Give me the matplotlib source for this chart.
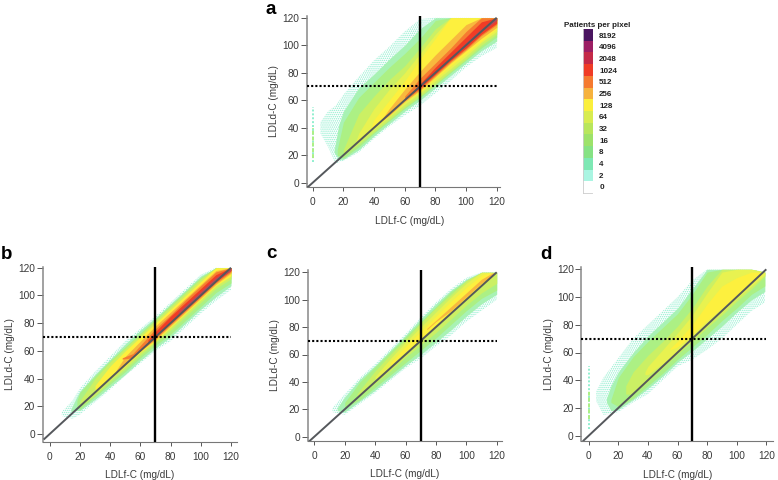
import matplotlib
matplotlib.use("Agg")
import matplotlib.pyplot as plt
from matplotlib.colors import ListedColormap
import numpy as np

plt.rcParams["font.family"] = ["Liberation Sans", "DejaVu Sans"]
plt.rcParams["hatch.linewidth"] = 0.7

W, H = 778, 480

# colour legend
legend_labels = ["0", "2", "4", "8", "16", "32", "64", "128", "256", "512", "1024", "2048", "4096", "8192"]
legend_colors = ["#ffffff", "#aaf5e2", "#7ee8b4", "#86e284", "#9de26a", "#b8e65c", "#d8ec50", "#fbef3c",
                 "#f6b23e", "#f57a30", "#f03c26", "#c42a48", "#9c1e64", "#4a1560"]

# colours of the density bands as they look once blurred
col_speck = "#90efcf"
col_mint = "#a8f2b4"
col_green = "#acf084"
col_lime = "#cbf064"
col_ylime = "#e8f250"
col_yellow = "#fdf03e"
col_orange = "#f8b83e"
col_dorange = "#f67c30"
col_red = "#f03c26"
col_maroon = "#b84a5a"

ticks = [0, 20, 40, 60, 80, 100, 120]
cutoff = 70

# band outlines: x positions, then lower and upper LDLd-C
# panel a
a_speck_x = [5, 10, 15, 20, 30, 40, 50, 60, 70, 80, 90, 100, 110, 120]
a_speck_lo = [36, 26, 14, 16, 22, 32, 41, 49, 56, 65, 74, 84, 92, 98]
a_speck_hi = [44, 52, 56, 64, 77, 89, 99, 110, 119, 120, 120, 120, 120, 120]
a_mint_x = [14, 17, 20, 30, 40, 50, 60, 70, 80, 90, 100, 110, 120]
a_mint_lo = [22, 17, 17, 24, 34, 43, 52, 60, 69, 78, 87, 96, 103]
a_mint_hi = [24, 42, 52, 69, 79, 90, 100, 112, 120, 120, 120, 120, 120]
a_green_x = [16, 20, 30, 40, 50, 60, 70, 80, 90, 100, 110, 120]
a_green_lo = [20, 18, 26, 36, 45, 54, 62, 71, 80, 89, 98, 106]
a_green_hi = [24, 44, 62, 73, 84, 94, 105, 118, 120, 120, 120, 120]
a_lime_x = [20, 30, 40, 50, 60, 70, 80, 90, 100, 110, 120]
a_lime_lo = [20, 28, 37, 46, 55, 63, 72, 81, 90, 100, 108]
a_lime_hi = [24, 50, 63, 75, 85, 98, 112, 120, 120, 120, 120]
a_ylime_x = [28, 30, 40, 50, 60, 70, 80, 90, 100, 110, 120]
a_ylime_lo = [29, 30, 39, 48, 57, 65, 74, 83, 92, 102, 110]
a_ylime_hi = [30, 36, 54, 68, 80, 94, 108, 120, 120, 120, 120]
a_yellow_x = [38, 40, 50, 60, 70, 80, 90, 100, 110, 120]
a_yellow_lo = [38, 40, 49, 59, 66, 76, 85, 94, 103, 112]
a_yellow_hi = [40, 46, 60, 74, 90, 105, 120, 120, 120, 120]
a_orange_x = [45, 50, 60, 70, 80, 90, 100, 110, 120]
a_orange_lo = [45, 49, 59, 67, 77, 87, 96, 105, 113]
a_orange_hi = [46, 54, 68, 81, 93, 104, 115, 120, 120]
a_dorange_x = [60, 70, 80, 90, 100, 110, 120]
a_dorange_lo = [60, 68, 78, 88, 97, 107, 115]
a_dorange_hi = [63, 76, 87, 98, 110, 120, 120]
a_red_x = [65, 70, 80, 90, 100, 110, 120]
a_red_lo = [65, 69, 79, 89, 98, 108, 116]
a_red_hi = [66, 72, 84, 95, 106, 117, 120]
a_maroon_x = [95, 100, 110, 120]
a_maroon_lo = [95, 100, 110, 118]
a_maroon_hi = [96, 102, 112, 120]
a_zero_lo, a_zero_hi = 15, 55
a_zero_dense_lo, a_zero_dense_hi = 18, 40

# panel b
b_speck_x = [8, 15, 20, 30, 40, 50, 60, 70, 80, 90, 100, 110, 120]
b_speck_lo = [13, 11, 14, 23, 32, 42, 51, 60, 67, 77, 87, 96, 104]
b_speck_hi = [16, 24, 33, 45, 56, 67, 76, 85, 95, 105, 115, 120, 120]
b_mint_x = [14, 18, 20, 30, 40, 50, 60, 70, 80, 90, 100, 110, 120]
b_mint_lo = [16, 17, 17, 25, 34, 43, 53, 62, 70, 80, 90, 99, 107]
b_mint_hi = [18, 27, 31, 43, 54, 65, 75, 84, 94, 104, 114, 120, 120]
b_green_x = [18, 20, 30, 40, 50, 60, 70, 80, 90, 100, 110, 120]
b_green_lo = [19, 18, 27, 36, 45, 55, 64, 72, 82, 92, 102, 109]
b_green_hi = [24, 30, 42, 53, 63, 73, 83, 93, 103, 113, 120, 120]
b_lime_x = [20, 30, 40, 50, 60, 70, 80, 90, 100, 110, 120]
b_lime_lo = [20, 28, 38, 47, 57, 66, 75, 85, 95, 105, 112]
b_lime_hi = [24, 40, 52, 62, 72, 82, 92, 102, 112, 120, 120]
b_yellow_x = [30, 40, 50, 60, 70, 80, 90, 100, 110, 120]
b_yellow_lo = [30, 40, 49, 59, 67, 77, 87, 97, 107, 114]
b_yellow_hi = [35, 49, 60, 70, 80, 90, 100, 110, 120, 120]
b_orange_x = [44, 50, 60, 70, 80, 90, 100, 110, 120]
b_orange_lo = [44, 50, 60, 68, 78, 88, 98, 108, 116]
b_orange_hi = [46, 56, 67, 78, 88, 98, 108, 118, 120]
b_dorange_x = [48, 55, 60, 70, 80, 90, 100, 110, 120]
b_dorange_lo = [54, 55, 60, 69, 79, 89, 99, 109, 117]
b_dorange_hi = [55, 58, 64, 76, 86, 97, 107, 117, 120]
b_red_x = [65, 70, 80, 90, 100, 110, 120]
b_red_lo = [66, 70, 80, 90, 100, 110, 118]
b_red_hi = [68, 74, 85, 95, 105, 115, 120]
b_maroon_x = [85, 90, 100, 110, 120]
b_maroon_lo = [87, 91, 101, 111, 118]
b_maroon_hi = [88, 93, 103, 113, 120]

# panel c
c_speck_x = [12, 20, 30, 40, 50, 60, 70, 80, 90, 100, 110, 120]
c_speck_lo = [18, 16, 24, 32, 41, 50, 57, 66, 74, 84, 92, 100]
c_speck_hi = [21, 31, 43, 53, 64, 75, 87, 98, 108, 116, 120, 120]
c_mint_x = [15, 20, 30, 40, 50, 60, 70, 80, 90, 100, 110, 120]
c_mint_lo = [19, 18, 26, 34, 43, 52, 60, 69, 78, 88, 97, 104]
c_mint_hi = [21, 29, 42, 52, 63, 74, 86, 97, 107, 115, 120, 120]
c_green_x = [20, 30, 40, 50, 60, 70, 80, 90, 100, 110, 120]
c_green_lo = [21, 27, 36, 45, 54, 63, 72, 82, 92, 101, 107]
c_green_hi = [25, 40, 51, 62, 73, 84, 95, 106, 114, 120, 120]
c_lime_x = [28, 30, 40, 50, 60, 70, 80, 90, 100, 110, 120]
c_lime_lo = [29, 30, 39, 48, 58, 67, 76, 86, 96, 105, 112]
c_lime_hi = [31, 34, 48, 60, 71, 83, 94, 104, 114, 120, 120]
c_ylime_x = [40, 50, 60, 70, 80, 90, 100, 110, 117]
c_ylime_lo = [42, 50, 60, 70, 80, 90, 100, 110, 116]
c_ylime_hi = [44, 57, 69, 80, 91, 102, 112, 120, 120]
c_yellow_x = [50, 60, 70, 80, 90, 100, 110, 116]
c_yellow_lo = [52, 62, 71, 81, 91, 101, 111, 117]
c_yellow_hi = [54, 66, 77, 88, 99, 109, 118, 120]
c_orange_x = [74, 80, 85, 90, 100, 110, 118]
c_orange_lo = [78, 84, 88, 92, 102, 112, 118]
c_orange_hi = [79, 85, 90, 95, 105, 115, 120]

# panel d
d_speck_x = [5, 10, 20, 30, 40, 50, 60, 70, 80, 90, 100, 110, 119]
d_speck_lo = [25, 15, 17, 24, 30, 40, 50, 55, 62, 70, 80, 90, 96]
d_speck_hi = [32, 42, 56, 70, 80, 90, 100, 112, 120, 120, 120, 120, 118]
d_mint_x = [12, 15, 20, 30, 40, 50, 60, 70, 80, 90, 100, 110, 119]
d_mint_lo = [24, 18, 19, 26, 34, 43, 53, 61, 70, 79, 89, 98, 104]
d_mint_hi = [27, 36, 46, 60, 72, 82, 92, 106, 120, 120, 120, 120, 118]
d_green_x = [15, 20, 30, 40, 50, 60, 70, 80, 90, 100, 110, 119]
d_green_lo = [24, 21, 27, 36, 45, 55, 64, 73, 83, 92, 102, 108]
d_green_hi = [26, 42, 57, 68, 78, 88, 102, 118, 120, 120, 120, 118]
d_lime_x = [25, 30, 40, 50, 60, 70, 80, 90, 100, 110, 119]
d_lime_lo = [30, 30, 39, 49, 59, 68, 78, 87, 97, 106, 115]
d_lime_hi = [36, 46, 58, 68, 79, 92, 108, 120, 120, 120, 118]
d_ylime_x = [38, 40, 50, 60, 70, 80, 90, 100, 110, 119]
d_ylime_lo = [44, 44, 52, 61, 70, 80, 89, 99, 108, 116]
d_ylime_hi = [46, 50, 62, 74, 87, 103, 118, 120, 120, 118]
d_yellow_x = [55, 60, 70, 80, 90, 100, 110, 117]
d_yellow_lo = [62, 64, 73, 83, 92, 101, 110, 116]
d_yellow_hi = [63, 68, 80, 95, 108, 114, 118, 118]
d_zero_lo, d_zero_hi = 5, 50
d_zero_dense_lo, d_zero_dense_hi = 12, 32

diag_x = [-4, 120]


def make_axes(left, right, bottom, top):
    # positions are given in pixels of the 778x480 picture
    return plt.axes([left / W, 1 - bottom / H, (right - left) / W, (bottom - top) / H])


def band(ax, x, lo, hi, color):
    ax.fill_between(x, lo, hi, color=color, linewidth=0)


def speckle(ax, x, lo, hi):
    ax.fill_between(x, lo, hi, facecolor="none", edgecolor=col_speck, hatch="........", linewidth=0)


def finish(ax, x0, x120, y0, y120, left, right, bottom, top, letter, lx, ly, xlabel_at=0.5):
    sx = (x120 - x0) / 120
    sy = (y0 - y120) / 120
    ax.set_xlim((left - x0) / sx, (right - x0) / sx)
    ax.set_ylim((y0 - bottom) / sy, (y0 - top) / sy)
    ax.plot(diag_x, diag_x, color="#55585c", lw=1.4, solid_capstyle="butt", zorder=5)
    ax.axvline(cutoff, color="black", lw=1.7, zorder=6)
    ax.plot([ax.get_xlim()[0], 120], [cutoff, cutoff], color="black", lw=1.5, ls=(0, (1, 1)), zorder=6)
    ax.set_xticks(ticks)
    ax.set_yticks(ticks)
    ax.tick_params(axis="x", length=3, width=0.7, color="#555555", labelsize=7.3, labelcolor="#3a3a3a", pad=4.5)
    ax.tick_params(axis="y", length=4.5, width=0.7, color="#555555", labelsize=7.3, labelcolor="#3a3a3a", pad=1)
    ax.set_xlabel("LDLf-C (mg/dL)", fontsize=7.2, color="#3a3a3a", labelpad=6, x=xlabel_at)
    ax.set_ylabel("LDLd-C (mg/dL)", fontsize=7.2, color="#3a3a3a", labelpad=2)
    ax.spines["top"].set_visible(False)
    ax.spines["right"].set_visible(False)
    ax.spines["left"].set_color("#888888")
    ax.spines["bottom"].set_color("#777777")
    ax.spines["left"].set_linewidth(1.1)
    ax.spines["bottom"].set_linewidth(0.8)
    fig.text(lx / W, 1 - ly / H, letter, fontsize=13.5, fontweight="bold", color="black", va="baseline")


fig = plt.figure(figsize=(W / 100, H / 100), dpi=100)

# panel a
ax_a = make_axes(306.7, 500, 187, 16)
speckle(ax_a, a_speck_x, a_speck_lo, a_speck_hi)
band(ax_a, a_mint_x, a_mint_lo, a_mint_hi, col_mint)
band(ax_a, a_green_x, a_green_lo, a_green_hi, col_green)
band(ax_a, a_lime_x, a_lime_lo, a_lime_hi, col_lime)
band(ax_a, a_ylime_x, a_ylime_lo, a_ylime_hi, col_ylime)
band(ax_a, a_yellow_x, a_yellow_lo, a_yellow_hi, col_yellow)
band(ax_a, a_orange_x, a_orange_lo, a_orange_hi, col_orange)
band(ax_a, a_dorange_x, a_dorange_lo, a_dorange_hi, col_dorange)
band(ax_a, a_red_x, a_red_lo, a_red_hi, col_red)
band(ax_a, a_maroon_x, a_maroon_lo, a_maroon_hi, col_maroon)
ax_a.vlines(0, a_zero_lo, a_zero_hi, color=col_speck, lw=1.4, ls=(0, (1, 1)))
ax_a.vlines(0, a_zero_dense_lo, a_zero_dense_hi, color=col_green, lw=1.4, ls=(0, (2, 1)))
finish(ax_a, 312.7, 496.7, 182.7, 17.7, 306.7, 500, 187, 16, "a", 266, 13.5, xlabel_at=0.535)

# panel b
ax_b = make_axes(42.7, 237, 441.7, 266.7)
speckle(ax_b, b_speck_x, b_speck_lo, b_speck_hi)
band(ax_b, b_mint_x, b_mint_lo, b_mint_hi, col_mint)
band(ax_b, b_green_x, b_green_lo, b_green_hi, col_green)
band(ax_b, b_lime_x, b_lime_lo, b_lime_hi, col_lime)
band(ax_b, b_yellow_x, b_yellow_lo, b_yellow_hi, col_yellow)
band(ax_b, b_orange_x, b_orange_lo, b_orange_hi, col_orange)
band(ax_b, b_dorange_x, b_dorange_lo, b_dorange_hi, col_dorange)
band(ax_b, b_red_x, b_red_lo, b_red_hi, col_red)
band(ax_b, b_maroon_x, b_maroon_lo, b_maroon_hi, col_maroon)
finish(ax_b, 49.7, 231, 434, 267.7, 42.7, 237, 441.7, 266.7, "b", 0.5, 259)

# panel c
ax_c = make_axes(307.7, 502, 440.7, 270)
speckle(ax_c, c_speck_x, c_speck_lo, c_speck_hi)
band(ax_c, c_mint_x, c_mint_lo, c_mint_hi, col_mint)
band(ax_c, c_green_x, c_green_lo, c_green_hi, col_green)
band(ax_c, c_lime_x, c_lime_lo, c_lime_hi, col_lime)
band(ax_c, c_ylime_x, c_ylime_lo, c_ylime_hi, col_ylime)
band(ax_c, c_yellow_x, c_yellow_lo, c_yellow_hi, col_yellow)
band(ax_c, c_orange_x, c_orange_lo, c_orange_hi, col_orange)
finish(ax_c, 314.3, 496.7, 436.7, 272.3, 307.7, 502, 440.7, 270, "c", 266, 258)

# panel d
ax_d = make_axes(581.3, 773, 441, 267)
speckle(ax_d, d_speck_x, d_speck_lo, d_speck_hi)
band(ax_d, d_mint_x, d_mint_lo, d_mint_hi, col_mint)
band(ax_d, d_green_x, d_green_lo, d_green_hi, col_green)
band(ax_d, d_lime_x, d_lime_lo, d_lime_hi, col_lime)
band(ax_d, d_ylime_x, d_ylime_lo, d_ylime_hi, col_ylime)
band(ax_d, d_yellow_x, d_yellow_lo, d_yellow_hi, col_yellow)
ax_d.vlines(0, d_zero_lo, d_zero_hi, color=col_speck, lw=1.4, ls=(0, (1, 1)))
ax_d.vlines(0, d_zero_dense_lo, d_zero_dense_hi, color=col_green, lw=1.4, ls=(0, (2, 1)))
finish(ax_d, 588.7, 766.3, 435.7, 269.3, 581.3, 773, 441, 267, "d", 540, 259)

# legend strip
ax_l = make_axes(582.7, 592.3, 192.7, 29.3)
n = len(legend_labels)
ax_l.imshow(np.arange(n).reshape(n, 1), cmap=ListedColormap(legend_colors), origin="lower",
            aspect="auto", extent=[0, 1, 0, n])
ax_l.set_xticks([])
ax_l.set_yticks(np.arange(n) + 0.5)
ax_l.set_yticklabels(legend_labels, fontsize=5.8, fontweight="bold", color="#222222")
ax_l.yaxis.tick_right()
ax_l.tick_params(length=0, pad=5)
for s in ["top", "right"]:
    ax_l.spines[s].set_visible(False)
for s in ["left", "bottom"]:
    ax_l.spines[s].set_color("#cccccc")
    ax_l.spines[s].set_linewidth(0.6)
fig.text(597.5 / W, 1 - 27 / H, "Patients per pixel", fontsize=5.8, fontweight="bold", color="#222222", ha="center")

fig.savefig("out.png", dpi=100)
